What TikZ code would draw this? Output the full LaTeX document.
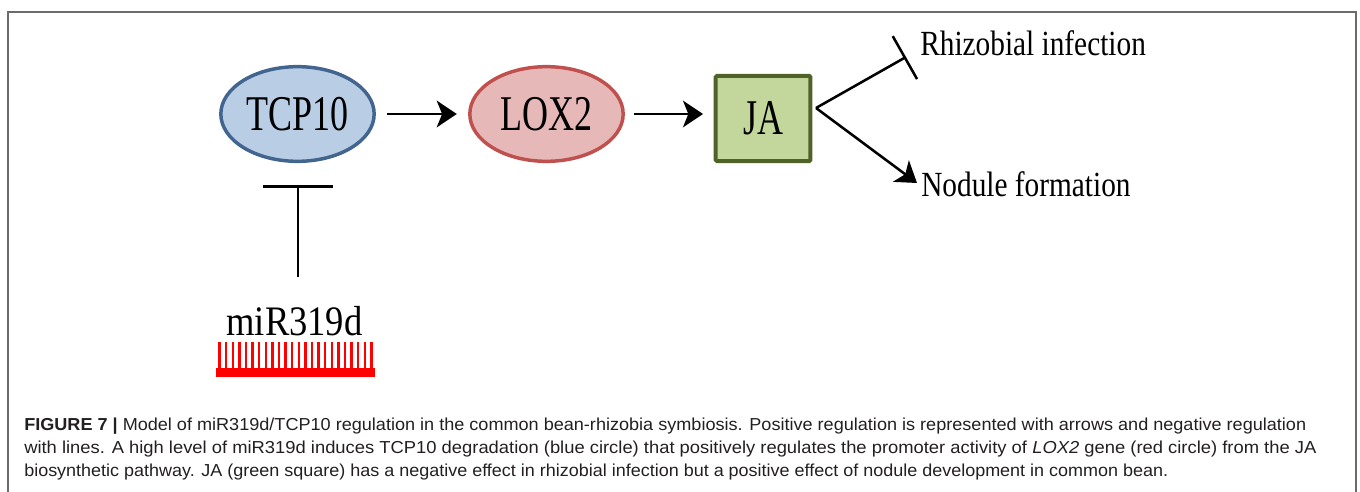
\documentclass[tikz,border=0pt]{standalone}
\usepackage{fontspec}
\setmainfont{Liberation Serif}
\newfontfamily\capfont{Liberation Sans}
\usetikzlibrary{arrows.meta,shapes.geometric}
\definecolor{tcpfill}{HTML}{B9CDE5}
\definecolor{tcpline}{HTML}{41658F}
\definecolor{loxfill}{HTML}{E6B9B8}
\definecolor{loxline}{HTML}{C0504D}
\definecolor{jafill}{HTML}{C3D69B}
\definecolor{jaline}{HTML}{4F6228}
\definecolor{framegray}{HTML}{6B6B6B}
\definecolor{captext}{HTML}{231F20}
\newcommand\squeeze[2]{\scalebox{#1}[1]{#2}}
\tikzset{
  genebox/.style={ellipse, line width=2.6pt, inner sep=0pt, minimum width=115pt, minimum height=71pt,
    font=\fontsize{37.5}{40}\selectfont},
  jabox/.style={rectangle, rounded corners=1pt, line width=3pt, draw=jaline, fill=jafill, inner sep=0pt,
    minimum width=71pt, minimum height=64pt, font=\fontsize{37.5}{40}\selectfont},
  act/.style={line width=1.9pt, -{Stealth[length=15pt, width=20pt, inset=4pt]}},
  inhib/.style={line width=1.9pt},
  outlabel/.style={anchor=base west, inner sep=0pt, font=\fontsize{26.5}{28}\selectfont},
  capline/.style={anchor=base west, inner sep=0pt, text=captext, font=\capfont\fontsize{13}{15}\selectfont},
}
\begin{document}
\begin{tikzpicture}[x=0.75pt, y=-0.75pt]
\useasboundingbox (0,0) rectangle (1360,492);
% frame
\draw[framegray, line width=1.1pt] (8,500) -- (8,12) -- (1356,12) -- (1356,500);
% nodes
\node[genebox, draw=tcpline, fill=tcpfill] (tcp) at (297.5,114) {\squeeze{0.72}{TCP10}};
\node[genebox, draw=loxline, fill=loxfill] (lox) at (546.5,114) {\squeeze{0.72}{LOX2}};
\node[jabox] (ja) at (763,118.5) {\squeeze{0.72}{JA}};
\node[anchor=base, inner sep=0pt, font=\fontsize{31.5}{34}\selectfont] (mir) at (294.5,335) {\squeeze{0.87}{miR319d}};
\node[outlabel] (rhiz) at (920,55.5) {\squeeze{0.83}{Rhizobial infection}};
\node[outlabel] (nod) at (921,196.5) {\squeeze{0.83}{Nodule formation}};
% comb (miRNA)
\fill[red] (216,368) rectangle (375,377);
\foreach \i in {0,...,23} {
  \fill[red] ({218.3+\i*6.6},342) rectangle ({220.7+\i*6.6},368);
}
% connectors
\draw[act, shorten <=8.5pt, shorten >=8.5pt] (tcp) -- (lox);
\draw[act, shorten <=7pt, shorten >=8pt] (lox.east) -- (lox.east -| ja.west);
\coordinate (mirtop) at (298,277);
\draw[inhib, -{Bar[width=52.5pt]}, shorten >=16.5pt] (mirtop) -- (tcp.south -| mirtop);
\coordinate (apex) at (816,108);
\coordinate (rend) at (906,57);
\coordinate (nend) at (917,183);
\draw[inhib, -{Bar[width=37pt]}] (apex) -- (rend);
\draw[act] (apex) -- (nend);
% caption
\node[capline] (c1) at (24,430) {\resizebox{961.5pt}{\height}{\textbf{FIGURE 7 |} Model of miR319d/TCP10 regulation in the common bean-rhizobia symbiosis. Positive regulation is represented with arrows and negative regulation}};
\node[capline] (c2) at (24,453) {\resizebox{969pt}{\height}{with lines. A high level of miR319d induces TCP10 degradation (blue circle) that positively regulates the promoter activity of \textit{LOX2} gene (red circle) from the JA}};
\node[capline] (c3) at (24,476) {\resizebox{858pt}{\height}{biosynthetic pathway. JA (green square) has a negative effect in rhizobial infection but a positive effect of nodule development in common bean.}};
\end{tikzpicture}
\end{document}
